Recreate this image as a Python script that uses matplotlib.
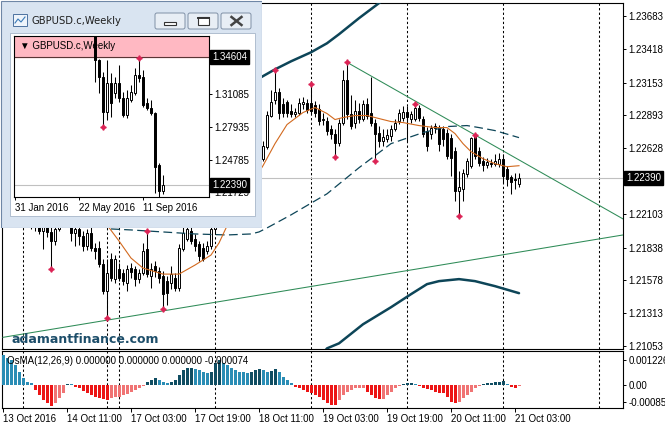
import matplotlib
matplotlib.use('Agg')
import matplotlib.pyplot as plt
from matplotlib.patches import Rectangle, FancyBboxPatch
import numpy as np

plt.rcParams['font.family'] = ['Liberation Sans', 'DejaVu Sans']

# ---- GBPUSD.c H1 bars, 13 Oct 2016 19:00 -> 21 Oct 2016 04:00 ----
opens = [1.22170, 1.22114, 1.22170, 1.22098, 1.22066, 1.22114, 1.22050, 1.22082, 1.22034, 1.22010,
         1.21970, 1.22002, 1.21962, 1.21890, 1.21986, 1.22066, 1.22114, 1.22050, 1.21954, 1.21986,
         1.21930, 1.21850, 1.21954, 1.21834, 1.21834, 1.21706, 1.21490, 1.21746, 1.21586, 1.21666,
         1.21634, 1.21554, 1.21674, 1.21666, 1.21586, 1.21634, 1.21826, 1.21610, 1.21690, 1.21650,
         1.21610, 1.21570, 1.21554, 1.21594, 1.21514, 1.21826, 1.21906, 1.21970, 1.21906, 1.21866,
         1.21834, 1.21810, 1.21850, 1.21986, 1.22170, 1.22306, 1.22370, 1.22322, 1.22386, 1.22338,
         1.22290, 1.22354, 1.22410, 1.22370, 1.22434, 1.22546, 1.22642, 1.22890, 1.23010, 1.23074,
         1.22978, 1.22994, 1.22930, 1.22906, 1.22914, 1.22978, 1.22986, 1.22986, 1.22970, 1.22946,
         1.22858, 1.22850, 1.22786, 1.22746, 1.22674, 1.22834, 1.23170, 1.22906, 1.22834, 1.22930,
         1.22866, 1.22978, 1.22914, 1.22834, 1.22754, 1.22690, 1.22706, 1.22730, 1.22786, 1.22850,
         1.22874, 1.22922, 1.22866, 1.22866, 1.22954, 1.22866, 1.22770, 1.22746, 1.22794, 1.22794,
         1.22786, 1.22754, 1.22714, 1.22610, 1.22290, 1.22306, 1.22426, 1.22490, 1.22730, 1.22610,
         1.22530, 1.22498, 1.22514, 1.22506, 1.22506, 1.22546, 1.22466, 1.22402, 1.22386, 1.22346]
highs = [1.22226, 1.22210, 1.22194, 1.22146, 1.22162, 1.22138, 1.22114, 1.22114, 1.22082, 1.22066,
         1.22050, 1.22034, 1.22018, 1.22018, 1.22114, 1.22170, 1.22146, 1.22090, 1.22018, 1.22034,
         1.21970, 1.21986, 1.22002, 1.21874, 1.21890, 1.21746, 1.21746, 1.21794, 1.21778, 1.21714,
         1.21666, 1.21698, 1.21714, 1.21690, 1.21666, 1.21874, 1.21970, 1.21714, 1.21730, 1.21682,
         1.21650, 1.21610, 1.21690, 1.21634, 1.21866, 1.22002, 1.22034, 1.22010, 1.21946, 1.21890,
         1.21874, 1.21890, 1.22018, 1.22210, 1.22346, 1.22434, 1.22410, 1.22434, 1.22418, 1.22386,
         1.22402, 1.22450, 1.22450, 1.22482, 1.22562, 1.22690, 1.22930, 1.23090, 1.23250, 1.23106,
         1.23026, 1.23010, 1.22978, 1.22954, 1.23026, 1.23034, 1.23018, 1.23138, 1.23002, 1.22978,
         1.22914, 1.22882, 1.22818, 1.22786, 1.22866, 1.23250, 1.23314, 1.23050, 1.23010, 1.22986,
         1.23010, 1.23026, 1.23194, 1.22866, 1.22810, 1.22786, 1.22786, 1.22818, 1.22866, 1.22946,
         1.22962, 1.22962, 1.22930, 1.22978, 1.22970, 1.22890, 1.22802, 1.22818, 1.22834, 1.22818,
         1.22810, 1.22786, 1.22746, 1.22642, 1.22450, 1.22466, 1.22554, 1.22722, 1.22738, 1.22642,
         1.22562, 1.22554, 1.22546, 1.22586, 1.22594, 1.22586, 1.22490, 1.22418, 1.22434, 1.22434]
lows = [1.22082, 1.22066, 1.22050, 1.22018, 1.22034, 1.22002, 1.22010, 1.21986, 1.21970, 1.21946,
        1.21826, 1.21922, 1.21666, 1.21858, 1.21970, 1.22034, 1.22018, 1.21890, 1.21850, 1.21858,
        1.21810, 1.21818, 1.21810, 1.21746, 1.21682, 1.21466, 1.21274, 1.21570, 1.21554, 1.21570,
        1.21538, 1.21490, 1.21594, 1.21530, 1.21554, 1.21618, 1.21602, 1.21514, 1.21602, 1.21554,
        1.21346, 1.21378, 1.21506, 1.21490, 1.21490, 1.21810, 1.21890, 1.21866, 1.21810, 1.21730,
        1.21730, 1.21786, 1.21826, 1.21954, 1.22130, 1.22274, 1.22290, 1.22274, 1.22290, 1.22250,
        1.22258, 1.22322, 1.22338, 1.22346, 1.22402, 1.22530, 1.22626, 1.22882, 1.22978, 1.22866,
        1.22882, 1.22882, 1.22882, 1.22882, 1.22898, 1.22946, 1.22914, 1.22906, 1.22882, 1.22818,
        1.22818, 1.22738, 1.22706, 1.22562, 1.22650, 1.22818, 1.22866, 1.22786, 1.22794, 1.22834,
        1.22850, 1.22866, 1.22810, 1.22530, 1.22642, 1.22650, 1.22682, 1.22690, 1.22770, 1.22826,
        1.22850, 1.22690, 1.22834, 1.22850, 1.22850, 1.22722, 1.22610, 1.22706, 1.22754, 1.22610,
        1.22650, 1.22546, 1.22410, 1.22210, 1.22090, 1.22210, 1.22402, 1.22474, 1.22546, 1.22490,
        1.22450, 1.22474, 1.22482, 1.22490, 1.22482, 1.22354, 1.22330, 1.22266, 1.22306, 1.22322]
closes = [1.22114, 1.22170, 1.22098, 1.22066, 1.22114, 1.22050, 1.22082, 1.22034, 1.22002, 1.21970,
          1.22002, 1.21962, 1.21890, 1.21986, 1.22066, 1.22114, 1.22050, 1.21954, 1.21986, 1.21930,
          1.21850, 1.21954, 1.21834, 1.21810, 1.21706, 1.21490, 1.21634, 1.21594, 1.21746, 1.21594,
          1.21570, 1.21666, 1.21642, 1.21586, 1.21634, 1.21810, 1.21626, 1.21666, 1.21650, 1.21594,
          1.21466, 1.21474, 1.21626, 1.21514, 1.21834, 1.21954, 1.21986, 1.21890, 1.21850, 1.21770,
          1.21746, 1.21850, 1.21986, 1.22170, 1.22306, 1.22370, 1.22322, 1.22386, 1.22338, 1.22290,
          1.22354, 1.22410, 1.22370, 1.22434, 1.22530, 1.22650, 1.22898, 1.22994, 1.23074, 1.22914,
          1.22914, 1.22914, 1.22906, 1.22922, 1.22986, 1.22994, 1.22938, 1.22930, 1.22914, 1.22850,
          1.22866, 1.22770, 1.22746, 1.22674, 1.22834, 1.23170, 1.22906, 1.22810, 1.22930, 1.22866,
          1.22978, 1.22890, 1.22834, 1.22746, 1.22690, 1.22722, 1.22738, 1.22786, 1.22834, 1.22914,
          1.22922, 1.22882, 1.22906, 1.22954, 1.22874, 1.22746, 1.22650, 1.22794, 1.22810, 1.22666,
          1.22706, 1.22570, 1.22554, 1.22290, 1.22322, 1.22434, 1.22530, 1.22714, 1.22570, 1.22514,
          1.22498, 1.22522, 1.22506, 1.22530, 1.22546, 1.22410, 1.22386, 1.22362, 1.22378, 1.22390]

fractal_up = [36, 68, 77, 86, 103, 118]
fractal_down = [12, 26, 40, 83, 93, 114]

# orange moving average
ma_idx = [26, 29, 32, 35, 40, 44, 48, 52, 54, 56, 58, 61, 65, 68, 71, 75, 78, 81, 83, 85, 88, 91,
          94, 97, 100, 104, 108, 111, 113, 115, 117, 120, 123, 126, 129]
ma_vals = [1.22018, 1.21890, 1.21754, 1.21674, 1.21626, 1.21626, 1.21698, 1.21778, 1.21874, 1.22010,
           1.22130, 1.22290, 1.22490, 1.22666, 1.22818, 1.22914, 1.22954, 1.22906, 1.22858, 1.22874,
           1.22890, 1.22890, 1.22866, 1.22842, 1.22834, 1.22810, 1.22794, 1.22794, 1.22746, 1.22666,
           1.22602, 1.22546, 1.22506, 1.22482, 1.22490]

# bands: middle (dashed), upper and lower (thick)
mid_idx = [27, 32, 40, 48, 56, 62, 64, 66, 72, 81, 89, 97, 105, 111, 116, 119, 123, 129]
mid_vals = [1.21986, 1.21978, 1.21962, 1.21946, 1.21938, 1.21946, 1.21962, 1.21994, 1.22098, 1.22266,
            1.22474, 1.22666, 1.22754, 1.22802, 1.22810, 1.22794, 1.22770, 1.22714]
up_idx = [50, 56, 60, 64, 68, 72, 77, 81, 84, 89, 95, 98]
up_vals = [1.22970, 1.23074, 1.23130, 1.23186, 1.23258, 1.23322, 1.23394, 1.23466, 1.23538, 1.23666,
           1.23810, 1.23858]
lo_idx = [80, 81, 84, 90, 97, 102, 106, 109, 114, 118, 123, 129]
lo_vals = [1.20994, 1.21034, 1.21074, 1.21226, 1.21362, 1.21466, 1.21546, 1.21570, 1.21586, 1.21570,
           1.21530, 1.21474]

# trend lines
support_idx = [0, 155]
support_vals = [1.21122, 1.21938]
resist_idx = [86, 155]
resist_vals = [1.23314, 1.22066]

# OsMA(12,26,9)
osma = [0.00150, 0.00135, 0.00125, 0.00100, 0.00065, 0.00033, 0.00017, 0.00008, -0.00025, -0.00050,
        -0.00075, -0.00090, -0.00103, -0.00090, -0.00065, -0.00040, 0.00003, 0.00003, -0.00010, -0.00015,
        -0.00030, -0.00040, -0.00050, -0.00060, -0.00065, -0.00070, -0.00075, -0.00067, -0.00060, -0.00060,
        -0.00050, -0.00045, -0.00033, -0.00025, -0.00015, -0.00003, 0.00017, 0.00025, 0.00033, 0.00025,
        0.00017, 0.00012, 0.00017, 0.00025, 0.00050, 0.00075, 0.00083, 0.00084, 0.00080, 0.00075,
        0.00067, 0.00058, 0.00067, 0.00110, 0.00125, 0.00110, 0.00100, 0.00083, 0.00075, 0.00067,
        0.00063, 0.00058, 0.00067, 0.00075, 0.00080, 0.00075, 0.00067, 0.00070, 0.00080, 0.00067,
        0.00042, 0.00025, 0.00012, -0.00008, -0.00017, -0.00025, -0.00033, -0.00042, -0.00050, -0.00058,
        -0.00075, -0.00090, -0.00100, -0.00101, -0.00075, -0.00050, -0.00033, -0.00025, -0.00017, -0.00015,
        -0.00014, -0.00033, -0.00050, -0.00067, -0.00070, -0.00068, -0.00050, -0.00033, -0.00017, -0.00003,
        0.00003, 0.00008, 0.00010, 0.00006, -0.00005, -0.00017, -0.00020, -0.00025, -0.00033, -0.00038,
        -0.00042, -0.00058, -0.00083, -0.00092, -0.00083, -0.00067, -0.00050, -0.00033, -0.00017, -0.00005,
        0.00005, 0.00008, 0.00012, 0.00015, 0.00017, 0.00020, 0.00005, -0.00010, -0.00013, -0.000074]

separators = [5, 26, 29, 53, 77, 101, 125, 149]
time_ticks = [0, 16, 32, 48, 64, 80, 96, 112, 128]
time_labels = ['13 Oct 2016', '14 Oct 11:00', '17 Oct 03:00', '17 Oct 19:00', '18 Oct 11:00',
               '19 Oct 03:00', '19 Oct 19:00', '20 Oct 11:00', '21 Oct 03:00']
price_ticks = [1.23683, 1.23418, 1.23153, 1.22893, 1.22628, 1.22103, 1.21838, 1.21578, 1.21313, 1.21053]

# ---- weekly GBPUSD.c (inset window), week 0 = 31 Jan 2016 ----
w_idx = list(range(20, 38))
w_open = [1.4227, 1.3433, 1.3271, 1.2937, 1.3214, 1.3118, 1.3214, 1.3070, 1.2908, 1.3051,
          1.3118, 1.3290, 1.3271, 1.3023, 1.2975, 1.2927, 1.2430, 1.2180]
w_high = [1.5018, 1.3440, 1.3319, 1.3433, 1.3309, 1.3271, 1.3385, 1.3128, 1.3147, 1.3194,
          1.3357, 1.3452, 1.3338, 1.3070, 1.3051, 1.2937, 1.2450, 1.2336]
w_low = [1.3223, 1.3118, 1.2793, 1.2860, 1.2889, 1.3070, 1.3032, 1.2889, 1.2879, 1.3032,
         1.3099, 1.3223, 1.2984, 1.2956, 1.2908, 1.2163, 1.1841, 1.2150]
w_close = [1.3433, 1.3271, 1.2937, 1.3214, 1.3023, 1.3214, 1.3070, 1.2908, 1.3070, 1.3128,
           1.3290, 1.3261, 1.3004, 1.2975, 1.2927, 1.2411, 1.2180, 1.22390]
w_frac_up = [31]
w_frac_down = [22]
w_level = 1.34604
w_ticks = [1.34235, 1.31085, 1.27935, 1.24785, 1.21725]
w_time_ticks = [0, 16, 32]
w_time_labels = ['31 Jan 2016', '22 May 2016', '11 Sep 2016']

W, H = 665, 425
fig = plt.figure(figsize=(W / 100, H / 100), dpi=100)
fig.patch.set_facecolor('white')


def px_box(x0, y0, x1, y1):
    return [x0 / W, 1 - y1 / H, (x1 - x0) / W, (y1 - y0) / H]


def candles(axis, x, o, h, l, c, width):
    x = np.asarray(x); o = np.asarray(o); h = np.asarray(h)
    l = np.asarray(l); c = np.asarray(c)
    up = c >= o
    axis.vlines(x, l, h, color='black', lw=0.75, zorder=3)
    axis.bar(x[up], (c - o)[up], bottom=o[up], width=width, facecolor='white',
             edgecolor='black', linewidth=0.7, zorder=4)
    axis.bar(x[~up], (o - c)[~up], bottom=c[~up], width=width, facecolor='black',
             edgecolor='black', linewidth=0.7, zorder=4)


ax = fig.add_axes(px_box(2, 3, 623, 349))
osc = fig.add_axes(px_box(2, 351, 623, 408))

for a in (ax, osc):
    a.set_xlim(-0.25, 155.0)
    for s in a.spines.values():
        s.set_linewidth(0.8)
        s.set_color('black')
    for s in separators:
        a.axvline(s, color='black', lw=0.75, ls=(0, (2.2, 2.2)), zorder=1)

ax.set_ylim(1.21029, 1.23787)
ax.axhline(closes[-1], color='#c0c0c0', lw=0.8, zorder=1)
candles(ax, range(len(closes)), opens, highs, lows, closes, 0.55)

band_col = '#0d4558'
ax.plot(up_idx, up_vals, color=band_col, lw=1.8, zorder=5, solid_capstyle='round')
ax.plot(lo_idx, lo_vals, color=band_col, lw=1.8, zorder=5, solid_capstyle='round')
ax.plot(mid_idx, mid_vals, color=band_col, lw=0.9, ls=(0, (7, 3.5)), zorder=5)
ax.plot(ma_idx, ma_vals, color='#d2691e', lw=0.8, zorder=5)
ax.plot(support_idx, support_vals, color='#2e8b57', lw=0.75, zorder=5)
ax.plot(resist_idx, resist_vals, color='#2e8b57', lw=0.75, zorder=5)

ax.plot(fractal_up, [highs[i] for i in fractal_up], ls='none', marker=(4, 1, 0),
        ms=4, color='#dc2456', zorder=6)
ax.plot(fractal_down, [lows[i] for i in fractal_down], ls='none', marker=(4, 1, 0),
        ms=4, color='#dc2456', zorder=6)

ax.set_xticks([])
ax.yaxis.tick_right()
ax.set_yticks(price_ticks)
ax.set_yticklabels([f'{v:.5f}' for v in price_ticks])
ax.tick_params(axis='y', length=2.5, width=0.7, pad=1.5, labelsize=7)
ax.annotate(f'{closes[-1]:.5f}', xy=(1, closes[-1]), xycoords=('axes fraction', 'data'),
            xytext=(2.4, 0), textcoords='offset points', ha='left', va='center',
            fontsize=7, color='white', annotation_clip=False, zorder=20,
            bbox=dict(boxstyle='square,pad=0.2', fc='black', ec='black'))

ax.text(0.016, 0.017, 'adamantfinance.com', transform=ax.transAxes, family='DejaVu Sans',
        fontsize=9, fontweight='bold', color='#1d4e6a', va='baseline', ha='left', zorder=7)

# OsMA histogram
diffs = np.diff(osma, prepend=osma[0])
colors = []
for v, d in zip(osma, diffs):
    if v >= 0:
        colors.append('#0f4d62' if d > 0 else '#2a8db5')
    else:
        colors.append('#ec1515' if d < 0 else '#f07474')
osc.bar(range(len(osma)), osma, width=0.75, color=colors, zorder=3)
osc.set_ylim(-0.00115, 0.0017)
osc.yaxis.tick_right()
osc.set_yticks([0.001226, 0.0, -0.00085])
osc.set_yticklabels(['0.001226', '0.00', '-0.00085'])
osc.tick_params(axis='y', length=2.5, width=0.7, pad=1.5, labelsize=7)
osc.set_xticks(time_ticks)
osc.set_xticklabels(time_labels)
osc.tick_params(axis='x', length=3, width=0.7, pad=1.5, labelsize=7)
for lbl in osc.get_xticklabels():
    lbl.set_ha('left')
osc.text(0.008, 0.82, 'OsMA(12,26,9) 0.000000 0.000000 0.000000 -0.000074',
         transform=osc.transAxes, fontsize=7, va='center', ha='left', zorder=6)

# ---- inset window ----
win = fig.add_axes(px_box(0, 0, 262, 228), zorder=10)
win.set_xlim(0, 262)
win.set_ylim(228, 0)
win.axis('off')
win.add_patch(Rectangle((0.5, 0.5), 261, 227, fc='#d9e4f1', ec='#6f87a6', lw=0.8))
win.add_patch(Rectangle((10, 33), 245, 183, fc='white', ec='#a6b6c9', lw=0.6))
win.add_patch(Rectangle((13, 14), 14, 12, fc='#eef4fb', ec='#4d72a0', lw=0.7))
win.plot([15, 18, 21, 25], [23, 19, 22, 17], color='#3a7ab8', lw=0.8)
win.text(32, 21.5, 'GBPUSD.c,Weekly', family='DejaVu Sans', fontsize=7.2, color='#1e1e1e',
         va='center', ha='left')
for bx in (155, 188, 221):
    win.add_patch(FancyBboxPatch((bx, 13), 30, 16, boxstyle='round,pad=0,rounding_size=2',
                                 fc='#e8eef5', ec='#7f90a6', lw=0.7))
win.add_patch(Rectangle((164, 21.5), 12, 3, fc='white', ec='#333333', lw=0.8))
win.add_patch(Rectangle((197.5, 16.5), 11, 8.5, fc='white', ec='#333333', lw=0.8))
win.plot([197.5, 208.5], [17.5, 17.5], color='#333333', lw=1.4)
win.plot([231.5, 241.5], [17, 25], color='#444444', lw=1.8)
win.plot([231.5, 241.5], [25, 17], color='#444444', lw=1.8)

wax = fig.add_axes(px_box(14, 36, 209, 197), zorder=11)
wax.set_xlim(-0.25, 48.5)
wax.set_ylim(1.21252, 1.36624)
for s in wax.spines.values():
    s.set_linewidth(0.8)
    s.set_color('black')
wax.axhspan(w_level, 1.37, color='#ffb8c2', zorder=0)
wax.axhline(w_level, color='#5a3535', lw=0.8, zorder=1)
wax.axhline(w_close[-1], color='#c0c0c0', lw=0.8, zorder=1)
candles(wax, w_idx, w_open, w_high, w_low, w_close, 0.55)
wax.plot(w_frac_up, [w_high[w_idx.index(j)] for j in w_frac_up], ls='none', marker=(4, 1, 0),
         ms=4, color='#dc2456', zorder=6)
wax.plot(w_frac_down, [w_low[w_idx.index(j)] for j in w_frac_down], ls='none', marker=(4, 1, 0),
         ms=4, color='#dc2456', zorder=6)
wax.text(0.03, 0.935, '\u25bc GBPUSD.c,Weekly', transform=wax.transAxes, fontsize=7,
         va='center', ha='left', zorder=7)
wax.yaxis.tick_right()
wax.set_yticks(w_ticks)
wax.set_yticklabels([f'{v:.5f}' for v in w_ticks])
wax.tick_params(axis='y', length=2.5, width=0.7, pad=1.5, labelsize=7)
wax.set_xticks(w_time_ticks)
wax.set_xticklabels(w_time_labels)
wax.tick_params(axis='x', length=2.5, width=0.7, pad=1.5, labelsize=7)
for lbl in wax.get_xticklabels():
    lbl.set_ha('left')
for lvl in (w_level, w_close[-1]):
    wax.annotate(f'{lvl:.5f}', xy=(1, lvl), xycoords=('axes fraction', 'data'),
                 xytext=(2.4, 0), textcoords='offset points', ha='left', va='center',
                 fontsize=7, color='white', annotation_clip=False, zorder=20,
                 bbox=dict(boxstyle='square,pad=0.2', fc='black', ec='black'))

fig.savefig('out.png', dpi=100)
